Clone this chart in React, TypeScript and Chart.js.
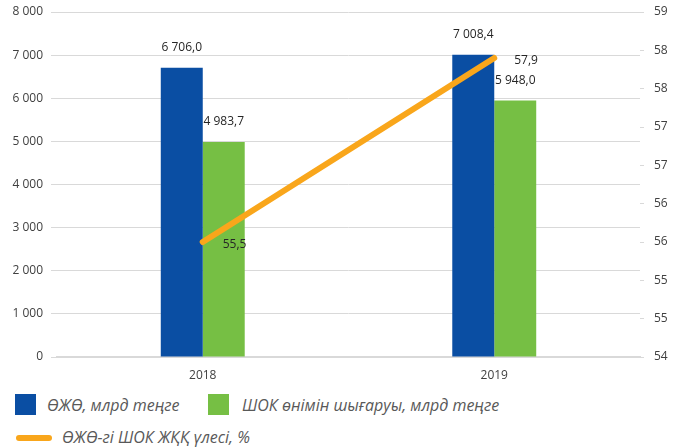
import React, { useEffect, useRef } from "react";
import { Chart, registerables } from "chart.js";

Chart.register(...registerables);

const categories = ["2018", "2019"];
const gdpValues = [6706.0, 7008.4];
const smeOutputValues = [4983.7, 5948.0];
const smeShareValues = [55.5, 57.9];

const seriesNames = [
  "ӨЖӨ, млрд теңге",
  "ШОК өнімін шығаруы, млрд теңге",
  "ӨЖӨ-гі ШОК ЖҚҚ үлесі, %",
];

const BLUE = "#0a4ea3";
const GREEN = "#76bf44";
const ORANGE = "#f9a61b";
const FONT = "'Open Sans', sans-serif";

function groupThousands(s: string): string {
  return s.replace(/\B(?=(\d{3})+(?!\d))/g, " ");
}

function fmt1(v: number): string {
  const [i, d] = v.toFixed(1).split(".");
  return groupThousands(i) + "," + d;
}

const labelPlugin = {
  id: "valueLabels",
  afterDatasetsDraw(chart: any) {
    const ctx = chart.ctx;
    ctx.save();
    ctx.font = `12px ${FONT}`;
    ctx.fillStyle = "#262626";
    chart.data.datasets.forEach((ds: any, di: number) => {
      const meta = chart.getDatasetMeta(di);
      meta.data.forEach((el: any, i: number) => {
        const v = ds.data[i];
        if (ds.type === "line") {
          ctx.textAlign = "left";
          ctx.textBaseline = "middle";
          ctx.fillText(fmt1(v), el.x + 20, el.y + 3);
        } else {
          ctx.textAlign = "center";
          ctx.textBaseline = "middle";
          ctx.fillText(fmt1(v), el.x, el.y - 20);
        }
      });
    });
    ctx.restore();
  },
};

function fixVertical(width: number) {
  return (s: any) => {
    s.width = width;
    s.paddingTop = 0;
    s.paddingBottom = 0;
  };
}

export default function App() {
  const canvasRef = useRef<HTMLCanvasElement | null>(null);

  useEffect(() => {
    if (!canvasRef.current) return;
    const chart = new Chart(canvasRef.current, {
      type: "bar",
      data: {
        labels: categories,
        datasets: [
          {
            type: "line",
            label: seriesNames[2],
            data: smeShareValues,
            yAxisID: "y1",
            borderColor: ORANGE,
            backgroundColor: ORANGE,
            borderWidth: 6,
            borderCapStyle: "round",
            pointRadius: 0,
            order: 0,
          } as any,
          {
            type: "bar",
            label: seriesNames[0],
            data: gdpValues,
            yAxisID: "y",
            backgroundColor: BLUE,
            barPercentage: 1,
            categoryPercentage: 0.288,
            order: 1,
          },
          {
            type: "bar",
            label: seriesNames[1],
            data: smeOutputValues,
            yAxisID: "y",
            backgroundColor: GREEN,
            barPercentage: 1,
            categoryPercentage: 0.288,
            order: 1,
          },
        ],
      },
      options: {
        animation: false,
        responsive: false,
        maintainAspectRatio: false,
        layout: { padding: { top: 12, bottom: 0, left: 0, right: 0 } },
        plugins: {
          legend: { display: false },
          tooltip: { enabled: false },
        },
        scales: {
          x: {
            grid: { display: false },
            border: { display: true, color: "#d9d9d9", width: 2 },
            ticks: {
              color: "#404040",
              font: { family: FONT, size: 12 },
              padding: 3,
            },
            afterFit: (s: any) => {
              s.height = 28;
            },
          },
          y: {
            position: "left",
            min: 0,
            max: 8000,
            grid: {
              color: "#d9d9d9",
              lineWidth: 1,
              tickLength: 6,
              tickColor: "#d9d9d9",
            },
            border: { display: false },
            ticks: {
              stepSize: 1000,
              color: "#404040",
              font: { family: FONT, size: 12 },
              padding: 8,
              callback: (v: any) => groupThousands(String(v)),
            },
            afterFit: fixVertical(57),
          },
          y1: {
            position: "right",
            min: 54,
            max: 58.5,
            grid: {
              drawOnChartArea: false,
              tickLength: 4,
              tickColor: "#d9d9d9",
            },
            border: { display: false },
            ticks: {
              stepSize: 0.5,
              color: "#404040",
              font: { family: FONT, size: 12 },
              padding: 10,
              callback: (v: any) => String(Math.round(Number(v))),
            },
            afterFit: fixVertical(39),
          },
        },
      },
      plugins: [labelPlugin],
    } as any);
    return () => chart.destroy();
  }, []);

  const legendText: React.CSSProperties = {
    position: "absolute",
    fontFamily: FONT,
    fontStyle: "italic",
    fontSize: 16,
    color: "#595959",
    lineHeight: "20px",
    whiteSpace: "nowrap",
  };

  return (
    <div
      style={{
        position: "fixed",
        left: 0,
        top: 0,
        width: 679,
        height: 448,
        background: "#fff",
      }}
    >
      <canvas
        ref={canvasRef}
        width={679}
        height={385}
        style={{ position: "absolute", left: 0, top: 0, width: 679, height: 385 }}
      />
      <div style={{ position: "absolute", left: 15, top: 394, width: 21, height: 21, background: BLUE }} />
      <div style={{ ...legendText, left: 47, top: 395 }}>{seriesNames[0]}</div>
      <div style={{ position: "absolute", left: 208, top: 394, width: 21, height: 21, background: GREEN }} />
      <div style={{ ...legendText, left: 242, top: 395 }}>{seriesNames[1]}</div>
      <div style={{ position: "absolute", left: 16, top: 435, width: 36, height: 6, borderRadius: 3, background: ORANGE }} />
      <div style={{ ...legendText, left: 62, top: 427 }}>{seriesNames[2]}</div>
    </div>
  );
}
